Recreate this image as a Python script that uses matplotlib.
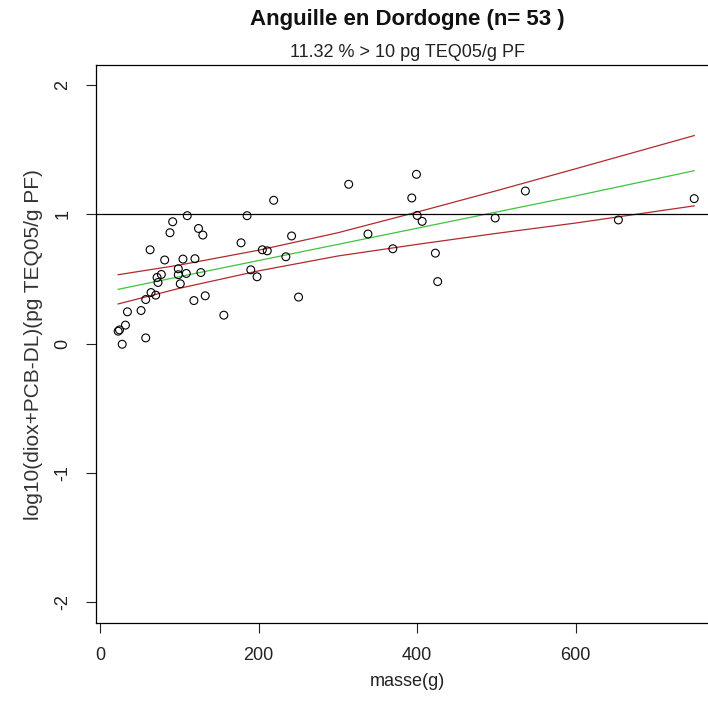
import numpy as np
import matplotlib
matplotlib.use('Agg')
import matplotlib.pyplot as plt

plt.rcParams['font.family'] = ['Liberation Sans', 'DejaVu Sans']

# points: masse (g), log10 concentration
masse = [218.9, 109.8, 185.3, 91.4, 88.0, 124.0, 129.5, 62.9, 177.7, 241.5,
         81.3, 104.4, 119.5, 204.6, 210.8, 234.3, 98.5, 71.7, 77.1, 72.9,
         98.5, 108.6, 127.0, 101.0, 190.0, 197.9, 64.1, 70.0, 57.4, 118.2,
         132.5, 250.3, 156.0, 34.3, 51.5, 31.8, 24.3, 22.6, 27.7, 57.4,
         313.6, 399.1, 393.2, 400.0, 406.3, 337.9, 369.3, 423.0, 425.9, 498.5,
         536.6, 654.0, 749.7]
log_teq = [1.109, 0.990, 0.990, 0.943, 0.858, 0.891, 0.840, 0.726, 0.780, 0.833,
           0.647, 0.654, 0.657, 0.726, 0.718, 0.672, 0.579, 0.512, 0.535, 0.473,
           0.533, 0.543, 0.550, 0.463, 0.571, 0.517, 0.395, 0.375, 0.341, 0.333,
           0.370, 0.360, 0.220, 0.246, 0.256, 0.143, 0.106, 0.096, -0.005, 0.044,
           1.233, 1.310, 1.127, 0.992, 0.946, 0.848, 0.734, 0.700, 0.480, 0.972,
           1.181, 0.957, 1.122]

# fitted line and confidence band, read at a few masses
masse_fit = [22.6, 100, 200, 300, 400, 500, 600, 749.7]
fit = [0.42, 0.518, 0.643, 0.768, 0.893, 1.018, 1.143, 1.338]
band_hi = [0.533, 0.608, 0.723, 0.858, 1.018, 1.183, 1.353, 1.610]
band_lo = [0.307, 0.428, 0.563, 0.678, 0.768, 0.853, 0.933, 1.066]

seuil = 1
x_ticks = [0, 200, 400, 600]
y_ticks = [-2, -1, 0, 1, 2]

W, H = 708, 711
fig = plt.figure(figsize=(W / 100, H / 100), dpi=100)
ax = fig.add_axes([95.5 / W, 1 - 622.7 / H, (719.8 - 95.5) / W, (622.7 - 64.5) / H])

ax.scatter(masse, log_teq, s=32, facecolors='none', edgecolors='black', linewidths=0.8, zorder=3)
ax.plot(masse_fit, fit, color='#3dc43d', lw=0.9)
ax.plot(masse_fit, band_hi, color='#b02a2e', lw=0.9)
ax.plot(masse_fit, band_lo, color='#b02a2e', lw=0.9)
ax.axhline(seuil, color='black', lw=0.9)

ax.set_xlim(-6, 782)
ax.set_ylim(-2.16, 2.16)
ax.set_xticks(x_ticks)
ax.set_yticks(y_ticks)
ax.set_yticklabels([str(v) for v in y_ticks], rotation=90, va='center')
ax.tick_params(axis='both', length=7.5, width=0.8, labelsize=13, pad=10, colors='#222222')
for sp in ax.spines.values():
    sp.set_linewidth(0.9)

fig.text(407.6 / W, 1 - 24.5 / H, 'Anguille en Dordogne (n= 53 )', ha='center', va='baseline',
         fontsize=16, fontweight='bold', color='#111111')
fig.text(407.6 / W, 1 - 57 / H, '11.32 % > 10 pg TEQ05/g PF', ha='center', va='baseline',
         fontsize=13, color='#222222')
fig.text(407.6 / W, 1 - 681.7 / H, 'masse(g)', ha='center', va='center', fontsize=13, color='#222222')
fig.text(34 / W, 1 - 345 / H, 'log10(diox+PCB-DL)(pg TEQ05/g PF)', ha='center', va='center',
         rotation=90, fontsize=15, color='#333333')

fig.savefig('out.png', dpi=100)
